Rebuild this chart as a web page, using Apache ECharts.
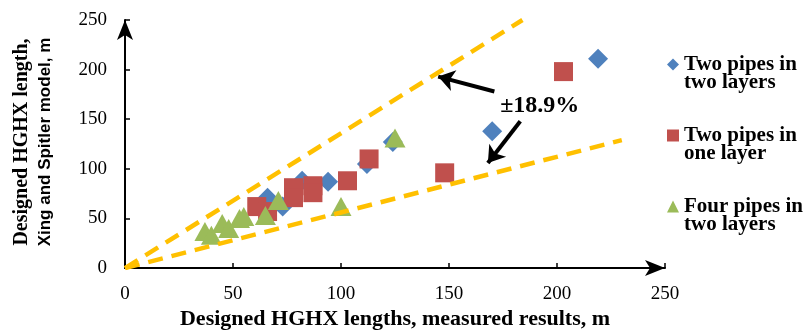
<!DOCTYPE html>
<html><head><meta charset="utf-8">
<script src="https://cdn.jsdelivr.net/npm/echarts@6/dist/echarts.min.js"></script>
<style>html,body{margin:0;padding:0;background:#fff}#c{width:806px;height:335px}</style>
</head><body><div id="c"></div>
<script>
// ---- data ----
const axisTicks = [0, 50, 100, 150, 200, 250];
const seriesNames = ['Two pipes in two layers', 'Two pipes in one layer', 'Four pipes in two layers'];
const legendLines = {
  'Two pipes in two layers': ['Two pipes in', 'two layers'],
  'Two pipes in one layer': ['Two pipes in', 'one layer'],
  'Four pipes in two layers': ['Four pipes in', 'two layers']
};
const twoPipesTwoLayers = [[66,71],[73,62],[82,88],[94,87],[112,105],[124,127],[170,138],[219,211]];
const twoPipesOneLayer = [[61,62],[66,57],[78,81],[78,71],[87,83],[87,76],[103,88],[113,110],[148,96],[203,198]];
const fourPipesTwoLayers = [[37,37],[40,33],[45,45],[48,40],[53,50],[55,52],[65,53],[71,68],[100,62],[125,131]];
const upperBound = [[0,0],[184,250]];
const lowerBound = [[0,0],[230,129]];
const arrowUpper = [[171,178],[145,193]];
const arrowLower = [[183,148],[168,106]];
const annotationText = '±18.9%';
const annotationAt = [192,164];
const xTitle = 'Designed HGHX lengths, measured results, m';
const yTitle1 = 'Designed HGHX length,';
const yTitle2 = 'Xing and Spitler model, m';

const serif = '"Liberation Serif", "DejaVu Serif", serif';
const sansNarrow = '"Liberation Sans Narrow", "Liberation Sans", Arial, sans-serif';

const chart = echarts.init(document.getElementById('c'), null, {renderer: 'canvas'});

function axisCommon() {
  return {
    type: 'value', min: axisTicks[0], max: axisTicks[axisTicks.length - 1], interval: 50,
    axisLine: {show: true, onZero: false, lineStyle: {color: '#000', width: 2},
      symbol: ['none', 'arrow'], symbolSize: [12, 20], symbolOffset: [0, 0]},
    axisTick: {show: true, inside: true, length: 5, lineStyle: {color: '#000', width: 1.5}},
    splitLine: {show: false},
    axisLabel: {fontFamily: serif, fontSize: 19, color: '#000'}
  };
}

const xAxis = axisCommon();
xAxis.axisLabel.margin = 16;
xAxis.name = xTitle;
xAxis.nameLocation = 'middle';
xAxis.nameGap = 38;
xAxis.nameTextStyle = {fontFamily: serif, fontSize: 22, fontWeight: 'bold', color: '#000'};

const yAxis = axisCommon();
yAxis.axisLabel.margin = 18;

chart.setOption({
  animation: false,
  backgroundColor: '#fff',
  grid: {left: 125, right: 141, top: 20, bottom: 63, containLabel: false},
  xAxis: xAxis,
  yAxis: yAxis,
  legend: {
    data: seriesNames, orient: 'vertical', left: 662, top: 31,
    itemWidth: 12, itemHeight: 12, itemGap: 14,
    formatter: n => '\n' + legendLines[n].join('\n'),
    textStyle: {fontFamily: serif, fontSize: 21, fontWeight: 'bold', color: '#000', lineHeight: 18}
  },
  series: [
    {name: seriesNames[0], type: 'scatter', data: twoPipesTwoLayers, symbol: 'diamond', symbolSize: 20,
      itemStyle: {color: '#4F81BD', opacity: 1}, z: 2},
    {name: seriesNames[1], type: 'scatter', data: twoPipesOneLayer, symbol: 'rect', symbolSize: 19,
      itemStyle: {color: '#C0504D', opacity: 1}, z: 2},
    {name: seriesNames[2], type: 'scatter', data: fourPipesTwoLayers, symbol: 'triangle', symbolSize: [21, 19],
      itemStyle: {color: '#9BBB59', opacity: 1}, z: 2},
    {name: 'upper', type: 'line', data: upperBound, symbol: 'none', silent: true, z: 3,
      lineStyle: {color: '#FFC000', width: 4.5, type: [15, 9]}},
    {name: 'lower', type: 'line', data: lowerBound, symbol: 'none', silent: true, z: 3,
      lineStyle: {color: '#FFC000', width: 4.5, type: [15, 9]}},
    {name: 'arrows', type: 'lines', coordinateSystem: 'cartesian2d', silent: true, z: 4,
      symbol: ['none', 'arrow'], symbolSize: 16,
      lineStyle: {color: '#000', width: 4, opacity: 1},
      data: [{coords: arrowUpper}, {coords: arrowLower}]}
  ]
});

const p = chart.convertToPixel({gridIndex: 0}, annotationAt);
chart.setOption({
  graphic: [
    {type: 'text', x: p[0], y: p[1], z: 10,
      style: {text: annotationText, fontFamily: serif, fontSize: 24, fontWeight: 'bold', fill: '#000',
        align: 'center', verticalAlign: 'middle'}},
    {type: 'text', x: 22, y: 142, rotation: Math.PI / 2, z: 10,
      style: {text: yTitle1, fontFamily: serif, fontSize: 20, fontWeight: 'bold', fill: '#000',
        align: 'center', verticalAlign: 'middle'}},
    {type: 'text', x: 45, y: 142, rotation: Math.PI / 2, z: 10,
      style: {text: yTitle2, fontFamily: sansNarrow, fontSize: 17, fontWeight: 'bold', fill: '#000',
        align: 'center', verticalAlign: 'middle'}}
  ]
});
</script>
</body></html>
